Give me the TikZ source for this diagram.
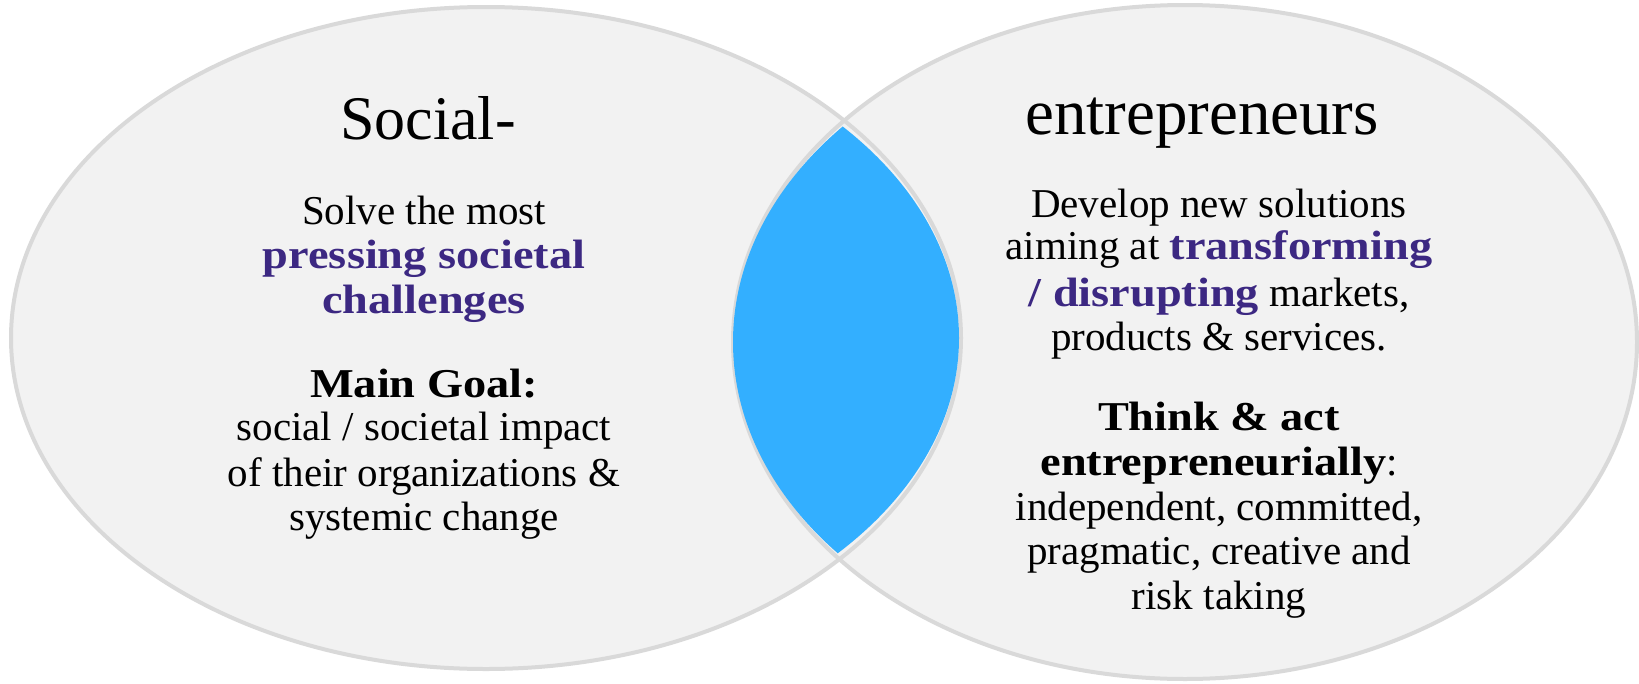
\documentclass[tikz,border=0pt]{standalone}
\usepackage{fontspec}
\setmainfont{Liberation Serif}[BoldFeatures={FakeStretch=1.13}]
\definecolor{ellfill}{RGB}{242,242,242}
\definecolor{elldraw}{RGB}{217,217,217}
\definecolor{lensblue}{RGB}{51,175,255}
\definecolor{purp}{RGB}{60,40,130}
\begin{document}
\begin{tikzpicture}[x=1pt,y=-1pt,
  ttl/.style={anchor=base,inner sep=0pt,font=\fontsize{62}{70}\selectfont},
  body/.style={anchor=base,inner sep=0pt,font=\fontsize{41}{44}\selectfont}]
\useasboundingbox (0,0) rectangle (1639,683);
\fill[ellfill] (486,338) ellipse [x radius=475,y radius=331];
\fill[ellfill] (1185,342) ellipse [x radius=452,y radius=337];
\draw[elldraw,line width=4pt] (486,338) ellipse [x radius=475,y radius=331];
\draw[elldraw,line width=4pt] (1185,342) ellipse [x radius=452,y radius=337];
\begin{scope}
\clip (486,338) ellipse [x radius=473,y radius=322];
\fill[lensblue] (1185,342) ellipse [x radius=452,y radius=330];
\end{scope}
\node[ttl] (t1) at (428,139) {Social-};
\node[ttl,font=\fontsize{65}{70}\selectfont] (t2) at (1202,134) {entrepreneurs};
\node[body] (l1) at (424,224) {Solve the most};
\node[body] (l2) at (424,268) {\textcolor{purp}{\textbf{pressing societal}}};
\node[body] (l3) at (424,313) {\textcolor{purp}{\textbf{challenges}}};
\node[body] (l4) at (424,397) {\textbf{Main Goal:}};
\node[body] (l5) at (424,440) {social / societal impact};
\node[body] (l6) at (424,486) {of their organizations \&};
\node[body] (l7) at (424,530) {systemic change};
\node[body] (r1) at (1219,217) {Develop new solutions};
\node[body] (r2) at (1219,259) {aiming at \textcolor{purp}{\textbf{transforming}}};
\node[body] (r3) at (1219,306) {\textcolor{purp}{\textbf{/ disrupting}} markets,};
\node[body] (r4) at (1219,350) {products \& services.};
\node[body] (r5) at (1219,430) {\textbf{Think \& act}};
\node[body] (r6) at (1219,475) {\textbf{entrepreneurially}:};
\node[body] (r7) at (1219,520) {independent, committed,};
\node[body] (r8) at (1219,564) {pragmatic, creative and};
\node[body] (r9) at (1219,609) {risk taking};
\end{tikzpicture}
\end{document}
